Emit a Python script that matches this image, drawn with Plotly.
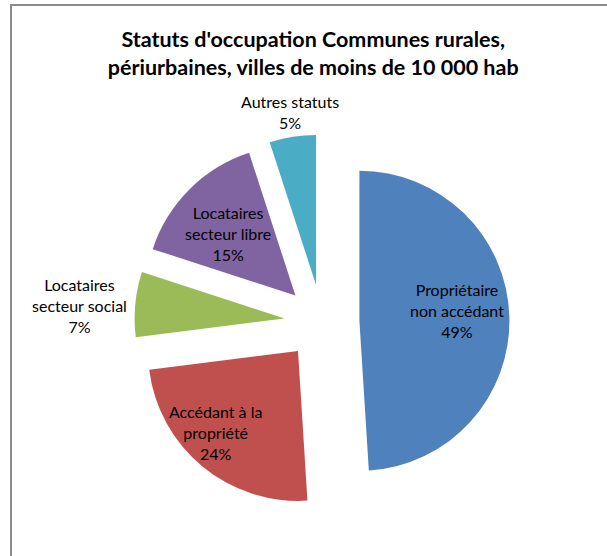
import math
import plotly.graph_objects as go

# Occupancy status shares (rural, peri-urban, towns < 10 000 inhabitants)
labels = [
    "Propriétaire<br>non accédant",
    "Accédant à la<br>propriété",
    "Locataires<br>secteur social",
    "Locataires<br>secteur libre",
    "Autres statuts",
]
values = [49, 24, 7, 15, 5]
colors = ["#4F81BD", "#C0504D", "#9BBB59", "#8064A2", "#4BACC6"]

# Label placement: distance beyond the pulled slice tip (fraction of radius)
# and a small angular nudge (degrees, clockwise) from the slice bisector.
label_radius = [0.653, 0.773, 1.367, 0.609, 1.163]
label_nudge = [-2.9, 4.1, -1.6, -1.9, 0.3]

W, H = 607, 556
PULL = 0.25
DOMAIN_X = [0.2213, 0.8394]
DOMAIN_Y = [0.0836, 0.7581]
FONT = "Lato, sans-serif"

fig = go.Figure(
    go.Pie(
        labels=labels,
        values=values,
        sort=False,
        direction="clockwise",
        rotation=0,
        pull=[PULL] * len(values),
        marker=dict(colors=colors, line=dict(width=0)),
        textinfo="none",
        showlegend=False,
        hoverinfo="label+percent",
        domain=dict(x=DOMAIN_X, y=DOMAIN_Y),
    )
)

# Pie geometry, reproduced from how plotly lays out a pie in its domain box
box_w = W * (DOMAIN_X[1] - DOMAIN_X[0])
box_h = H * (DOMAIN_Y[1] - DOMAIN_Y[0])
radius = min(box_w, box_h) / (2 + 2 * PULL)
cx = W * (DOMAIN_X[0] + DOMAIN_X[1]) / 2
cy = H * (1 - (DOMAIN_Y[0] + DOMAIN_Y[1]) / 2)

total = sum(values)
annotations = []
start = 0.0
for lab, val, k, nudge in zip(labels, values, label_radius, label_nudge):
    frac = val / total
    mid = 2 * math.pi * (start + frac / 2) + math.radians(nudge)
    start += frac
    ux, uy = math.sin(mid), -math.cos(mid)  # clockwise from 12 o'clock
    dist = radius * (PULL + k)
    px, py = cx + dist * ux, cy + dist * uy
    annotations.append(
        dict(
            x=px / W,
            y=1 - py / H,
            xref="paper",
            yref="paper",
            xanchor="center",
            yanchor="middle",
            showarrow=False,
            align="center",
            text=f"{lab}<br>{round(frac * 100):.0f}%",
            font=dict(family=FONT, size=16, color="#000000"),
        )
    )

fig.update_layout(
    width=W,
    height=H,
    margin=dict(l=0, r=0, t=0, b=0, autoexpand=False),
    paper_bgcolor="#FFFFFF",
    plot_bgcolor="#FFFFFF",
    title=dict(
        text="<b>Statuts d'occupation Communes rurales,<br>périurbaines, villes de moins de 10 000 hab</b>",
        x=0.516,
        xanchor="center",
        y=0.916,
        yanchor="middle",
        font=dict(family=FONT, size=21.5, color="#000000"),
    ),
    annotations=annotations,
    shapes=[
        dict(
            type="rect",
            xref="paper",
            yref="paper",
            x0=11 / W,
            x1=1.02,
            y0=-0.02,
            y1=1 - 5 / H,
            line=dict(color="#8C8C8C", width=2),
            fillcolor="rgba(0,0,0,0)",
        )
    ],
)

fig.write_html("out.html")
